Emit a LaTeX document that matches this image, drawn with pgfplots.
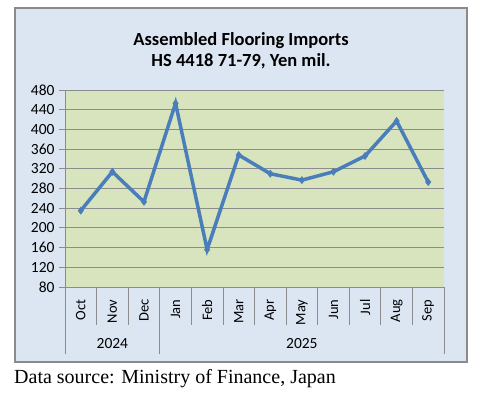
\documentclass[border=0pt]{standalone}
\usepackage{pgfplots}
\pgfplotsset{compat=1.18}
\usepackage{fontspec}
\setmainfont{Carlito}
\newfontfamily\timesf{Liberation Serif}
\definecolor{outerbg}{HTML}{DCE6F2}
\definecolor{plotbg}{HTML}{D7E4BD}
\definecolor{linec}{HTML}{4A7EBB}
\definecolor{gridc}{HTML}{8C8C8C}
\definecolor{framec}{HTML}{8A8A8A}
\begin{document}
\begin{tikzpicture}
\useasboundingbox (0,0) rectangle (483bp,393bp);
\draw[framec, line width=1.8bp, fill=outerbg] (15bp,31bp) rectangle (467bp,385bp);
\node[font=\fontsize{18.5bp}{20.5bp}\selectfont\bfseries, align=center] at (241bp,342bp) {Assembled Flooring Imports\\HS 4418 71-79, Yen mil.};
\node[font=\timesf\fontsize{20bp}{22bp}\selectfont, anchor=base west, inner sep=0pt] at (14bp,10bp) {Data source: Ministry of Finance, Japan};
\begin{axis}[
  at={(65bp,106bp)}, anchor=south west,
  width=379bp, height=197bp, scale only axis,
  xmin=-0.5, xmax=11.5, ymin=80, ymax=480,
  ytick={80,120,...,480},
  xtick={0,...,11},
  xticklabels={Oct,Nov,Dec,Jan,Feb,Mar,Apr,May,Jun,Jul,Aug,Sep},
  x tick label style={rotate=90, anchor=east, font=\fontsize{14.5bp}{16bp}\selectfont, xshift=-3bp},
  y tick label style={font=\fontsize{15.5bp}{17bp}\selectfont, xshift=-1bp},
  /pgf/number format/assume math mode=true,
  axis x line*=bottom, axis y line*=left,
  axis line style={gridc, line width=0.8bp},
  x tick style={draw=none},
  y tick style={gridc, line width=0.8bp},
  tick align=outside, major tick length=6bp,
  ymajorgrids, grid style={gridc, line width=0.8bp},
  axis background/.style={fill=plotbg},
  clip=false,
]
\addplot[linec, line width=3.5bp, mark=diamond*, mark size=3.6bp, mark options={fill=linec, line width=0.5bp}] coordinates {
(0,235) (1,314) (2,253) (3,453) (4,156) (5,348) (6,310) (7,297) (8,314) (9,346) (10,417) (11,293)
};
\pgfplotsinvokeforeach{0.5,1.5,3.5,4.5,5.5,6.5,7.5,8.5,9.5,10.5}{
  \draw[gridc, line width=0.8bp] (axis cs:#1,80) -- ([yshift=-38bp]axis cs:#1,80);
}
\pgfplotsinvokeforeach{-0.5,2.5,11.5}{
  \draw[gridc, line width=0.8bp] (axis cs:#1,80) -- ([yshift=-67bp]axis cs:#1,80);
}
\node[font=\fontsize{15.5bp}{17bp}\selectfont] at (axis cs:1,80) [yshift=-57bp] {2024};
\node[font=\fontsize{15.5bp}{17bp}\selectfont] at (axis cs:7,80) [yshift=-57bp] {2025};
\end{axis}
\end{tikzpicture}
\end{document}
